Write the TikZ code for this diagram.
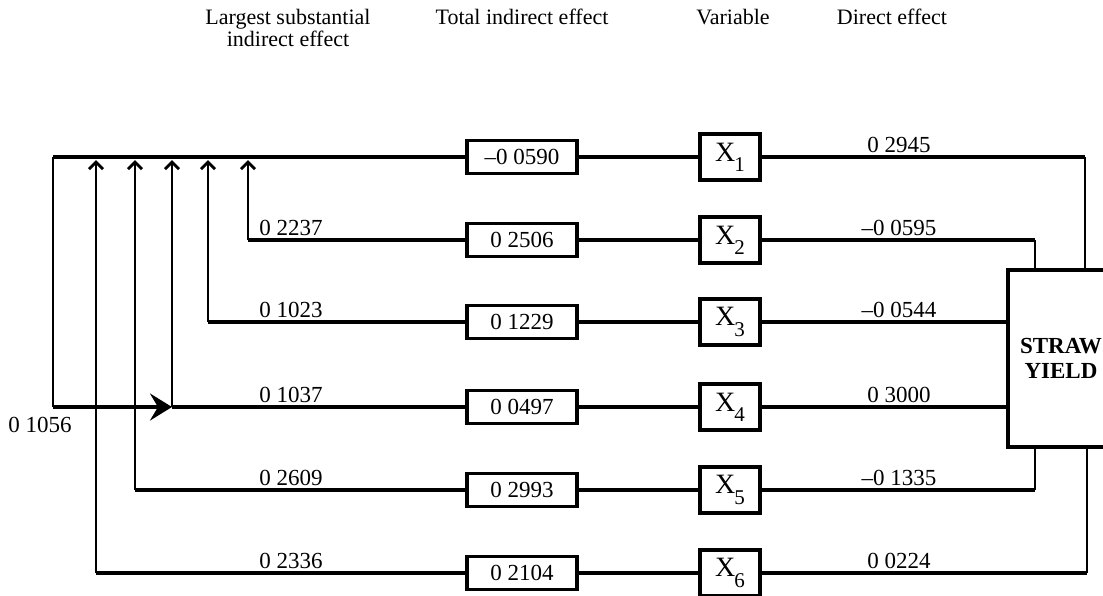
\documentclass[tikz,border=0pt]{standalone}
\usepackage{fontspec}
\setmainfont{Liberation Serif}
\usepackage{tikz}
\usetikzlibrary{shapes,arrows.meta,positioning,calc}

\newcommand{\xvar}[1]{X\kern-0.5pt\raisebox{-0.8ex}{\fontsize{10.5}{10}\selectfont #1}}

\tikzset{
  effbox/.style={draw, line width=1.7pt, minimum width=55pt, minimum height=16.5pt, inner sep=0pt, font=\fontsize{11.5}{12}\selectfont},
  varbox/.style={draw, line width=1.7pt, minimum width=30pt, minimum height=23pt, inner sep=0pt, font=\fontsize{14}{14}\selectfont},
  yieldbox/.style={draw, line width=1.8pt, minimum width=53pt, minimum height=88.5pt, inner sep=0pt, align=center, font=\fontsize{11.5}{12.5}\selectfont\bfseries},
  mainline/.style={line width=1.7pt},
  thinline/.style={line width=1.1pt},
  uparrow/.style={line width=1.1pt, -{Straight Barb[length=3.5pt, width=7pt, line width=1.5pt]}},
  bigarrow/.style={-{Stealth[length=11pt, width=13.5pt, inset=4pt]}},
  coef/.style={font=\fontsize{11.5}{12}\selectfont, inner sep=0pt, anchor=south},
  header/.style={font=\fontsize{11}{10}\selectfont, inner sep=0pt, align=center, anchor=north}
}

\begin{document}
\begin{tikzpicture}[x=0.5pt, y=-0.5pt]
\clip (0,0) rectangle (1103,595);

% column headings
\node[header] (hlarge) at (288,9) {Largest substantial\\indirect effect};
\node[header] (htotal) at (522,9) {Total indirect effect};
\node[header] (hvar) at (733,9) {Variable};
\node[header] (hdirect) at (892,9) {Direct effect};

% total indirect effects
\node[effbox] (t1) at (522,157) {--0 0590};
\node[effbox] (t2) at (522,240) {0 2506};
\node[effbox] (t3) at (522,322) {0 1229};
\node[effbox] (t4) at (522,407) {0 0497};
\node[effbox] (t5) at (522,490) {0 2993};
\node[effbox] (t6) at (522,573) {0 2104};

% variables
\foreach \i/\y in {1/157,2/240,3/322,4/407,5/490,6/573}
  \node[varbox] (x\i) at (730,\y) {\xvar{\i}};

\node[yieldbox] (yield) at (1061,358.5) {STRAW\\YIELD};

% left ends of the rows
\coordinate (l1) at (53,157);
\coordinate (l2) at (248,240);
\coordinate (l3) at (208,322);
\coordinate (l4) at (53,407);
\coordinate (a4) at (172,407);
\coordinate (l5) at (135,490);
\coordinate (l6) at (96,573);
\coordinate (rowtop) at (0,160);

\foreach \i in {1,2,3,5,6}
  \draw[mainline] (l\i) -- (t\i);
\draw[mainline] (a4) -- (t4);
\draw[mainline, bigarrow] (l4) -- (a4);
\draw[thinline] (l1) -- (l4);
\foreach \i in {1,...,6}
  \draw[mainline] (t\i) -- (x\i);

% arrows up to the top row
\foreach \p in {l2,l3,a4,l5,l6}
  \draw[uparrow] (\p) -- (\p |- rowtop);

% into straw yield
\draw[mainline] (x1) -- (1085,157) coordinate (r1);
\draw[thinline] (r1) -- (r1 |- yield.north);
\draw[mainline] (x2) -- (1035,240) coordinate (r2);
\draw[thinline] (r2) -- (r2 |- yield.north);
\draw[mainline] (x3) -- (x3 -| yield.west);
\draw[mainline] (x4) -- (x4 -| yield.west);
\draw[mainline] (x5) -- (1035,490) coordinate (r5);
\draw[thinline] (r5) -- (r5 |- yield.south);
\draw[mainline] (x6) -- (1087,573) coordinate (r6);
\draw[thinline] (r6) -- (r6 |- yield.south);

% largest substantial indirect effects
\node[coef] (li2) at (291,236) {0 2237};
\node[coef] (li3) at (291,318) {0 1023};
\node[coef] (li4) at (291,403) {0 1037};
\node[coef] (li5) at (291,486) {0 2609};
\node[coef] (li6) at (291,569) {0 2336};
\node[font=\fontsize{11.5}{12}\selectfont, inner sep=0pt] (lloop) at (40,425) {0 1056};

% direct effects
\node[coef] (ld1) at (899,153) {0 2945};
\node[coef] (ld2) at (899,236) {--0 0595};
\node[coef] (ld3) at (899,318) {--0 0544};
\node[coef] (ld4) at (899,403) {0 3000};
\node[coef] (ld5) at (899,486) {--0 1335};
\node[coef] (ld6) at (899,569) {0 0224};
\end{tikzpicture}
\end{document}
